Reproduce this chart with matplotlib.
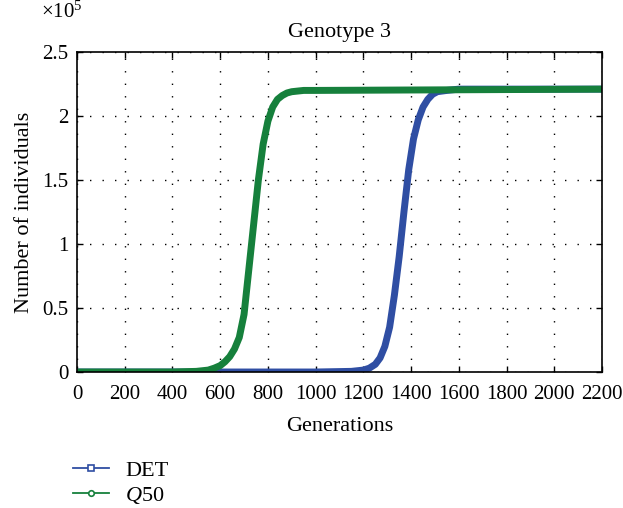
"""Genotype 3 population curves, DET vs Q50."""

import matplotlib
matplotlib.use("Agg")
from matplotlib import pyplot as plt
from matplotlib.lines import Line2D

# generations / number of individuals (x1e5)
det_gen = [0, 1000, 1150, 1200, 1225, 1250, 1270, 1290, 1310, 1330, 1350,
           1370, 1390, 1410, 1430, 1450, 1470, 1490, 1510, 1550, 1600, 2200]
det_val = [0.0, 0.0, 0.005, 0.015, 0.03, 0.06, 0.11, 0.2, 0.35, 0.6, 0.9,
           1.25, 1.58, 1.82, 1.97, 2.07, 2.13, 2.17, 2.19, 2.2, 2.21, 2.21]

q50_gen = [0, 400, 500, 550, 575, 600, 620, 640, 660, 680, 700, 720, 740,
           760, 780, 800, 820, 840, 860, 880, 900, 950, 1000, 2200]
q50_val = [0.0, 0.0, 0.005, 0.015, 0.03, 0.05, 0.08, 0.12, 0.18, 0.27, 0.45,
           0.8, 1.15, 1.5, 1.78, 1.96, 2.07, 2.13, 2.16, 2.18, 2.19, 2.2, 2.2,
           2.21]

x_ticks = list(range(0, 2201, 200))
y_ticks = [0, 0.5, 1, 1.5, 2, 2.5]
y_labels = ["0", "0.5", "1", "1.5", "2", "2.5"]

blue = "#2f4ea3"
green = "#16803c"

plt.rcParams["font.family"] = ["Liberation Serif", "DejaVu Serif"]
plt.rcParams["mathtext.fontset"] = "custom"
plt.rcParams["mathtext.rm"] = "Liberation Serif"
plt.rcParams["mathtext.it"] = "Liberation Serif:italic"

fig = plt.figure(figsize=(6.23, 5.08), dpi=100)
ax = fig.add_axes([0.1236, 0.2677, 0.8427, 0.6299])

ax.plot(det_gen, det_val, color=blue, lw=5, solid_joinstyle="round")
ax.plot(q50_gen, q50_val, color=green, lw=5, solid_joinstyle="round")

ax.set_xlim(0, 2200)
ax.set_ylim(0, 2.5)
ax.set_xticks(x_ticks)
ax.set_yticks(y_ticks)
ax.set_yticklabels(y_labels)
ax.tick_params(direction="in", length=4, width=1, labelsize=15, pad=6,
               top=True, right=True)
ax.tick_params(axis="x", pad=9)
ax.grid(True, color="black", linestyle=(0, (1, 8)), linewidth=1)
for s in ax.spines.values():
    s.set_linewidth(1.2)

ax.set_title("Genotype 3", fontsize=16, pad=11)
ax.set_xlabel("Generations", fontsize=16, labelpad=10)
ax.set_ylabel("Number of individuals", fontsize=16, labelpad=6)
fig.text(0.066, 0.955, r"$\times10^5$", fontsize=15, ha="left", va="bottom")

handles = [
    Line2D([], [], color=blue, lw=1.3, marker="s", ms=4, mfc="white", mew=1.2),
    Line2D([], [], color=green, lw=1.3, marker="o", ms=4, mfc="white", mew=1.2),
]
fig.legend(handles, ["DET", r"$Q$50"], loc="upper left",
           bbox_to_anchor=(0.103, 0.112), frameon=False, fontsize=16,
           handlelength=1.6, handletextpad=0.75, labelspacing=0.2,
           borderaxespad=0)

fig.savefig("out.png", dpi=100)
